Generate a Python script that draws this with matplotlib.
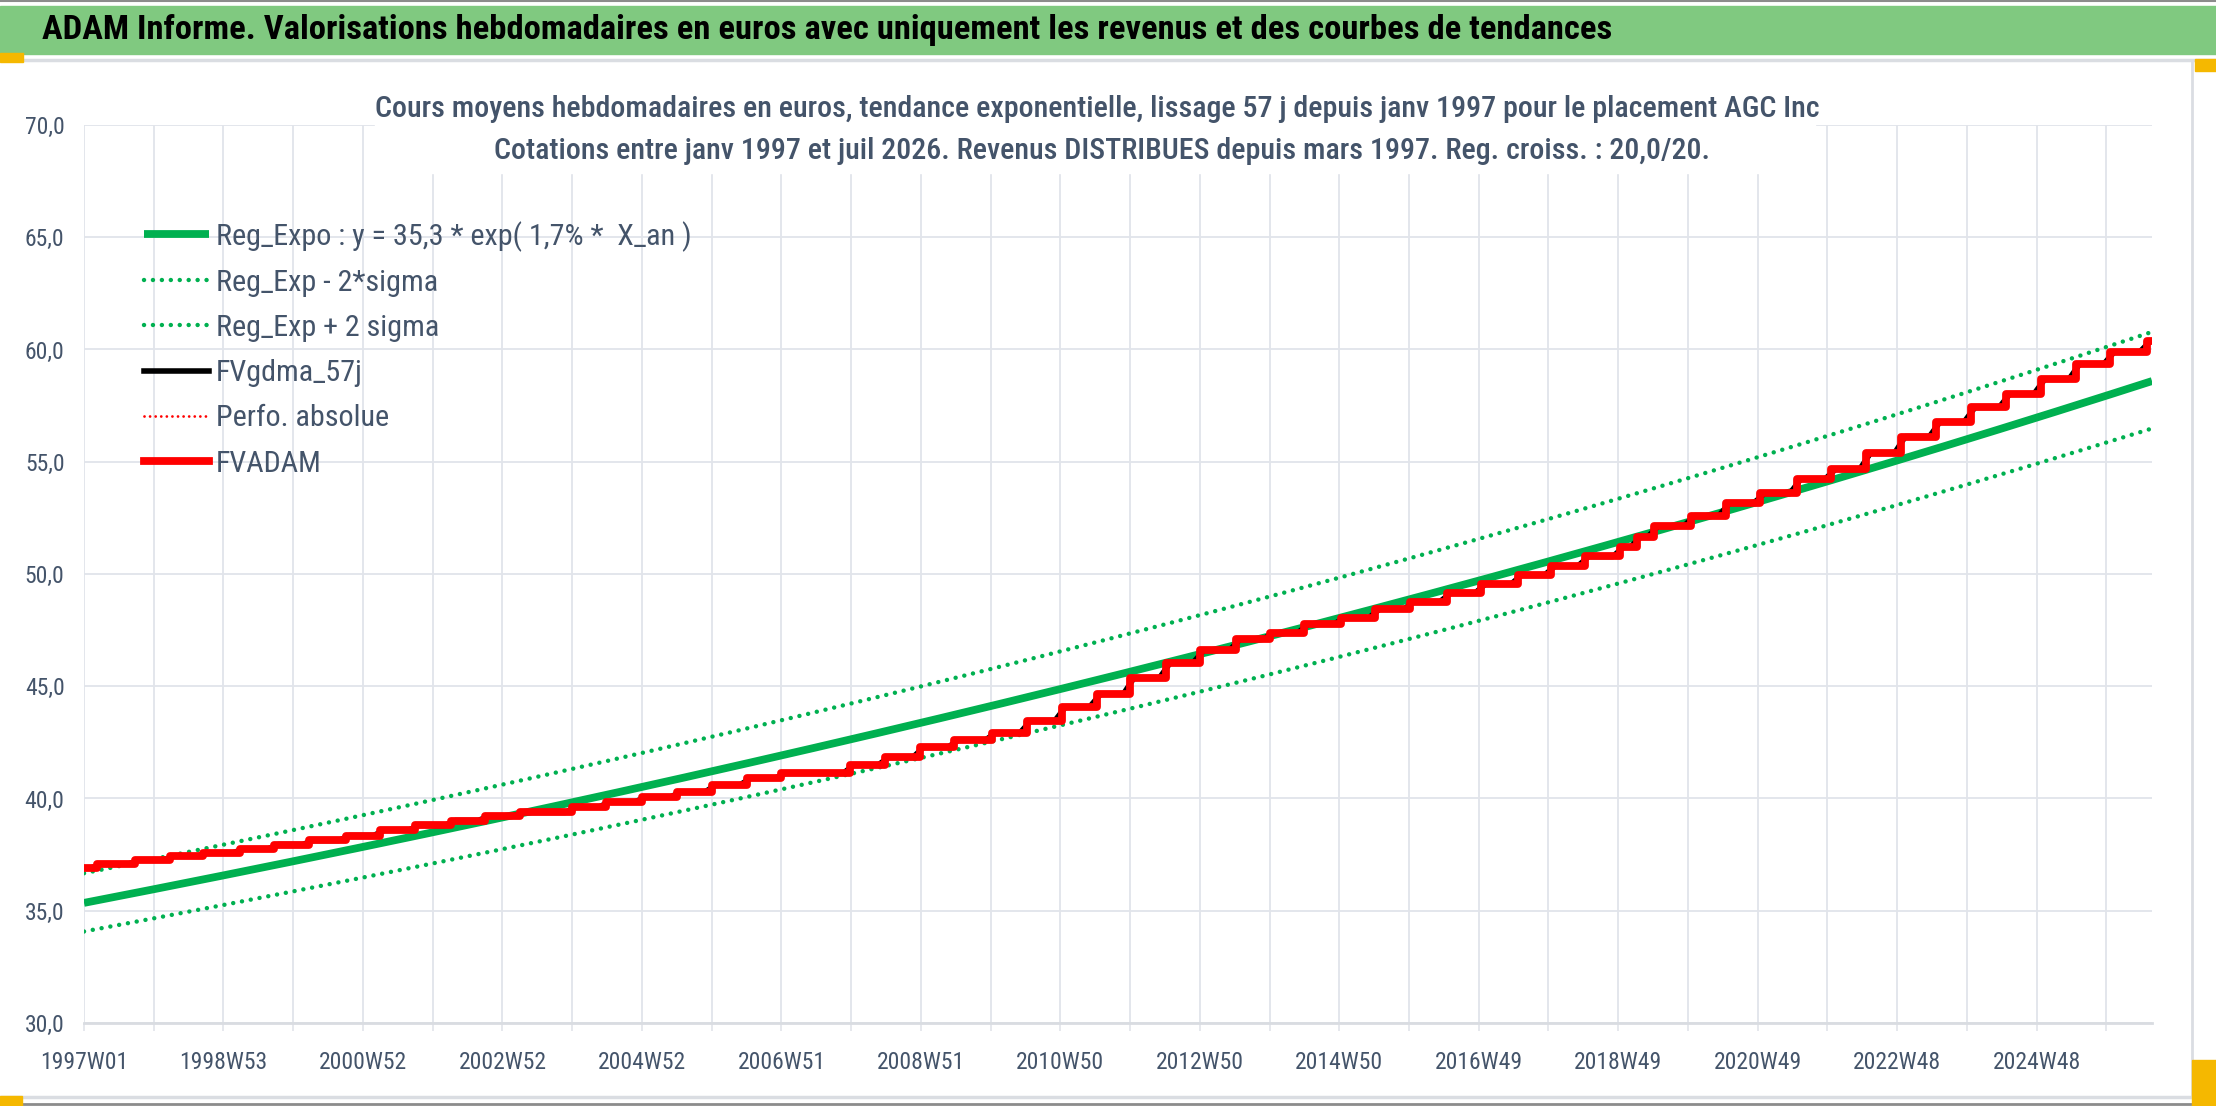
import numpy as np
import matplotlib
matplotlib.use('Agg')
import matplotlib.pyplot as plt
from matplotlib import font_manager as fm
from matplotlib.patches import Rectangle
from matplotlib.lines import Line2D

# Semaines ou le cours FVADAM saute (index de semaine depuis 1997W01) et niveaux apres chaque saut
jump_weeks = [0, 10, 38, 64, 89, 116, 142, 168, 195, 221,
              247, 274, 299, 325, 364, 389, 416, 442, 468, 494,
              520, 571, 597, 623, 649, 677, 703, 729, 755, 780,
              807, 832, 859, 884, 910, 937, 963, 989, 1016, 1042,
              1069, 1094, 1119, 1145, 1158, 1171, 1198, 1224, 1250, 1277,
              1303, 1329, 1355, 1381, 1407, 1433, 1459, 1485, 1511, 1538]
fvadam_levels = [36.9, 37.08, 37.25, 37.43, 37.58, 37.75, 37.95, 38.13, 38.35, 38.59,
                 38.80, 39.02, 39.22, 39.38, 39.62, 39.86, 40.06, 40.29, 40.6, 40.9,
                 41.12, 41.49, 41.83, 42.28, 42.6, 42.93, 43.47, 44.09, 44.65, 45.38,
                 46.05, 46.6, 47.09, 47.38, 47.77, 48.05, 48.43, 48.77, 49.14, 49.55,
                 49.95, 50.36, 50.78, 51.2, 51.66, 52.14, 52.6, 53.15, 53.59, 54.22,
                 54.66, 55.38, 56.12, 56.78, 57.42, 58.02, 58.67, 59.35, 59.9, 60.39]
n_weeks = 1543

# Regression exponentielle (legende) : y = 35,3 * exp(1,7% * X_an), bande +/- 2 sigma
reg_a = 35.35
reg_rate = 0.0171
two_sigma = 0.0367

tick_labels = ['1997W01', '1998W53', '2000W52', '2002W52', '2004W52', '2006W51', '2008W51',
               '2010W50', '2012W50', '2014W50', '2016W49', '2018W49', '2020W49', '2022W48',
               '2024W48']
y_ticks = [30, 35, 40, 45, 50, 55, 60, 65, 70]

title = 'ADAM Informe. Valorisations hebdomadaires en euros avec uniquement les revenus et des courbes de tendances'
sub1 = 'Cours moyens hebdomadaires en euros, tendance exponentielle, lissage 57 j depuis janv 1997 pour le placement AGC Inc'
sub2 = 'Cotations entre janv 1997 et juil 2026. Revenus DISTRIBUES depuis mars 1997. Reg. croiss. : 20,0/20.'

# police etroite si disponible
names = {f.name for f in fm.fontManager.ttflist}
font = 'Liberation Sans'
k = 0.82
for cand in ['Liberation Sans Narrow', 'Roboto Condensed', 'Open Sans Condensed']:
    if cand in names:
        font, k = cand, 1.0
        break
plt.rcParams['font.family'] = [font, 'DejaVu Sans']

W, H = 2216, 1106
def fx(x): return x / W
def fy(y): return 1 - y / H

txt_col = '#44546A'
grid_col = '#E1E4EA'

fig = plt.figure(figsize=(W / 100, H / 100), dpi=100)
fig.patch.set_facecolor('white')

# cadre et bandeau
fig.patches.append(Rectangle((0, fy(54)), 1, fy(6) - fy(54), transform=fig.transFigure,
                             color='#80C980', zorder=1))
fig.add_artist(Line2D([0, 1], [fy(1), fy(1)], color='#8C8C8C', lw=1.5))
fig.add_artist(Line2D([fx(23), 1], [fy(60), fy(60)], color='#DADDE2', lw=2.5))
fig.patches.append(Rectangle((0, fy(62)), fx(23), fy(53) - fy(62), transform=fig.transFigure,
                             color='#F5B800', zorder=2))
fig.patches.append(Rectangle((fx(2195), fy(71)), fx(21), fy(59) - fy(71), transform=fig.transFigure,
                             color='#F5B800', zorder=2))
fig.add_artist(Line2D([fx(2192), fx(2192)], [fy(62), fy(1097)], color='#DADDE2', lw=2))
fig.add_artist(Line2D([0, 1], [fy(1097), fy(1097)], color='#DADDE2', lw=2.5))
fig.add_artist(Line2D([0, 1], [fy(1104), fy(1104)], color='#8C8C8C', lw=2))
fig.patches.append(Rectangle((fx(2192), 0), fx(24), fy(1060), transform=fig.transFigure,
                             color='#F5B800', zorder=2))
fig.patches.append(Rectangle((0, 0), fx(22), fy(1096), transform=fig.transFigure,
                             color='#F5B800', zorder=2))
fig.text(fx(42), fy(30), title, fontsize=24.8 * k, fontweight='bold', color='black',
         ha='left', va='center', zorder=3)

ax = fig.add_axes([fx(84), fy(1023), fx(2152) - fx(84), fy(125) - fy(1023)])

weeks = np.arange(n_weeks)
reg = reg_a * np.exp(reg_rate * weeks / 52.18)
dots = (0, (0.01, 2.0))
ax.plot(weeks, reg * np.exp(-two_sigma), color='#00B050', lw=3.2, ls=dots,
        dash_capstyle='round', label='Reg_Exp - 2*sigma', zorder=3)
ax.plot(weeks, reg * np.exp(two_sigma), color='#00B050', lw=3.2, ls=dots,
        dash_capstyle='round', label='Reg_Exp + 2 sigma', zorder=3)
ax.plot(weeks, reg, color='#00B050', lw=5.6, solid_capstyle='butt',
        label='Reg_Expo : y = 35,3 * exp( 1,7% *  X_an )', zorder=4)

# moyenne mobile : rampe autour de chaque saut
bx, by = [0], [fvadam_levels[0]]
for w, prev, new in zip(jump_weeks[1:], fvadam_levels[:-1], fvadam_levels[1:]):
    bx += [w - 5, w + 3]
    by += [prev, new]
bx.append(n_weeks - 1)
by.append(fvadam_levels[-1])
ax.plot(bx, by, color='black', lw=4, label='FVgdma_57j', zorder=5)

sx = jump_weeks + [n_weeks - 1]
sy = fvadam_levels + [fvadam_levels[-1]]
ax.step(sx, sy, where='post', color='#FF0000', lw=2, ls=(0, (0.01, 2.0)),
        dash_capstyle='round', label='Perfo. absolue', zorder=5)
ax.step(sx, sy, where='post', color='#FF0000', lw=5.6, label='FVADAM', zorder=6)

ax.set_xlim(0, n_weeks - 1)
ax.set_ylim(30, 70)
ax.set_yticks(y_ticks)
ax.set_yticklabels([f'{v:.1f}'.replace('.', ',') for v in y_ticks])
xt = list(range(0, n_weeks, 52))
ax.set_xticks(xt)
ax.set_xticklabels([tick_labels[i // 2] if i % 2 == 0 else '' for i in range(len(xt))])
ax.tick_params(axis='x', length=6, width=1.2, color=grid_col, pad=14, labelsize=17 * k,
               labelcolor=txt_col)
ax.tick_params(axis='y', length=0, pad=14, labelsize=17 * k, labelcolor=txt_col)
ax.grid(True, color=grid_col, lw=1.3)
ax.set_axisbelow(True)
for s in ['top', 'right', 'left']:
    ax.spines[s].set_visible(False)
ax.spines['bottom'].set_color('#D9DCE1')
ax.spines['bottom'].set_linewidth(2)

handles, labels = ax.get_legend_handles_labels()
order = [2, 0, 1, 3, 4, 5]
leg = ax.legend([handles[i] for i in order], [labels[i] for i in order],
                loc='upper left', bbox_to_anchor=(fx(144), fy(221)),
                bbox_transform=fig.transFigure, frameon=False, fontsize=21.7 * k,
                handlelength=2.17, handletextpad=0.22, labelspacing=0.57,
                borderpad=0, borderaxespad=0)
for t in leg.get_texts():
    t.set_color(txt_col)

# titre du graphique sur fond blanc
fig.patches.append(Rectangle((fx(375), fy(173)), fx(1815) - fx(375), fy(88) - fy(173),
                             transform=fig.transFigure, color='white', zorder=5))
fig.text(fx(1097), fy(109), sub1, fontsize=21.6 * k, fontweight='medium', color=txt_col,
         ha='center', va='center', zorder=6)
fig.text(fx(1102), fy(151), sub2, fontsize=21.6 * k, fontweight='medium', color=txt_col,
         ha='center', va='center', zorder=6)

fig.savefig('out.png', dpi=100)
